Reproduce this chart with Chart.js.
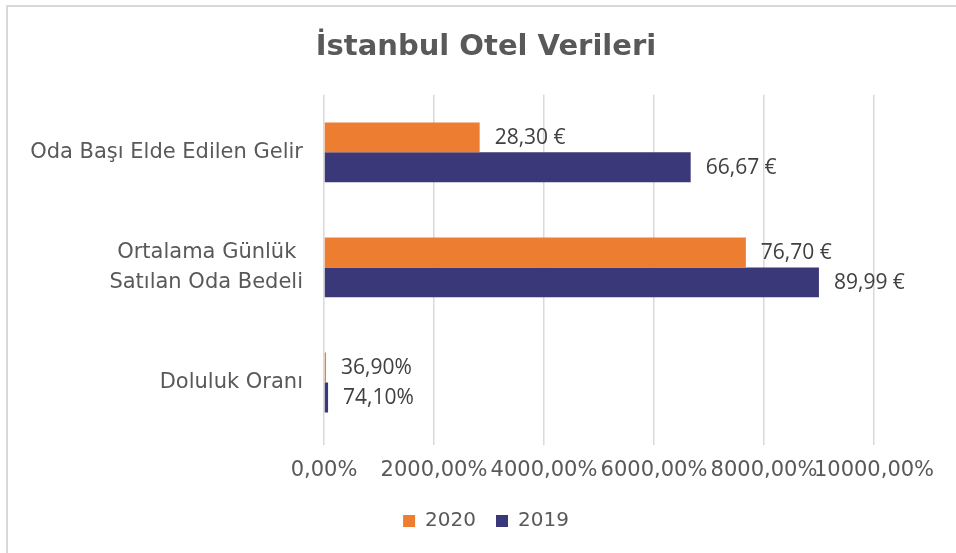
<!DOCTYPE html>
<html>
<head>
<meta charset="utf-8">
<script src="https://cdn.jsdelivr.net/npm/chart.js@4/dist/chart.umd.min.js"></script>
<style>
  html, body { margin: 0; padding: 0; background: #fff; overflow: hidden; }
  #frame { position: absolute; left: 6px; top: 5px; width: 1000px; height: 600px; border: 2px solid #d9d9d9; }
  #wrap { position: absolute; left: 0; top: 0; width: 956px; height: 553px; }
</style>
</head>
<body>
<div id="frame"></div>
<div id="wrap"><canvas id="hotelChart" width="956" height="553"></canvas></div>
<script>
// kategoriler ve seriler
const categories = ['Oda Başı Elde Edilen Gelir', ['Ortalama Günlük ', 'Satılan Oda Bedeli'], 'Doluluk Oranı'];
const values2020 = [2830, 7670, 36.9];
const values2019 = [6667, 8999, 74.1];
const labels2020 = ['28,30 €', '76,70 €', '36,90%'];
const labels2019 = ['66,67 €', '89,99 €', '74,10%'];
const xTicks = [0, 2000, 4000, 6000, 8000, 10000];

// bar sonundaki değer etiketleri
const valueLabels = {
    id: 'valueLabels',
    afterDatasetsDraw(chart) {
        const ctx = chart.ctx;
        const texts = [labels2020, labels2019];
        ctx.save();
        ctx.font = '21px "Open Sans", sans-serif';
        ctx.fillStyle = '#404040';
        ctx.textAlign = 'left';
        ctx.textBaseline = 'middle';
        chart.data.datasets.forEach((ds, i) => {
            chart.getDatasetMeta(i).data.forEach((bar, j) => {
                ctx.fillText(texts[i][j], bar.x + 15, bar.y + 1);
            });
        });
        ctx.restore();
    }
};

const ctx = document.getElementById('hotelChart').getContext('2d');
new Chart(ctx, {
    type: 'bar',
    data: {
        labels: categories,
        datasets: [
            { label: '2020', data: values2020, backgroundColor: '#ED7D31', barPercentage: 1, categoryPercentage: 0.52 },
            { label: '2019', data: values2019, backgroundColor: '#3A3878', barPercentage: 1, categoryPercentage: 0.52 }
        ]
    },
    options: {
        indexAxis: 'y',
        responsive: false,
        animation: false,
        layout: { padding: { left: 98, right: 82, top: 0, bottom: 12 } },
        scales: {
            x: {
                min: 0,
                max: 10000,
                afterBuildTicks: scale => { scale.ticks = xTicks.map(v => ({ value: v })); },
                afterFit: scale => { scale.height = 51; },
                grid: { color: '#d9d9d9', lineWidth: 1.5, tickLength: 5 },
                border: { display: false },
                ticks: {
                    autoSkip: false,
                    maxRotation: 0,
                    padding: 13,
                    color: '#595959',
                    font: { family: '"DejaVu Sans", Verdana, sans-serif', size: 21 },
                    callback: v => v.toFixed(2).replace('.', ',') + '%'
                }
            },
            y: {
                afterFit: scale => {
                    scale.width = 226;
                    // uzun etiket kırpılmasın
                    scale._computeLabelArea = () => undefined;
                },
                grid: { display: false, drawTicks: false },
                border: { display: false },
                ticks: {
                    padding: 21,
                    color: '#595959',
                    font: { family: '"DejaVu Sans", Verdana, sans-serif', size: 21, lineHeight: 1.43 }
                }
            }
        },
        plugins: {
            title: {
                display: true,
                text: 'İstanbul Otel Verileri',
                color: '#595959',
                font: { family: '"DejaVu Sans", Verdana, sans-serif', size: 29, weight: 'bold' },
                padding: { top: 30, bottom: 30 }
            },
            legend: {
                position: 'bottom',
                labels: {
                    color: '#595959',
                    boxWidth: 12,
                    boxHeight: 12,
                    padding: 20,
                    font: { family: '"DejaVu Sans", Verdana, sans-serif', size: 20 }
                }
            },
            tooltip: { enabled: false }
        }
    },
    plugins: [valueLabels]
});
</script>
</body>
</html>
